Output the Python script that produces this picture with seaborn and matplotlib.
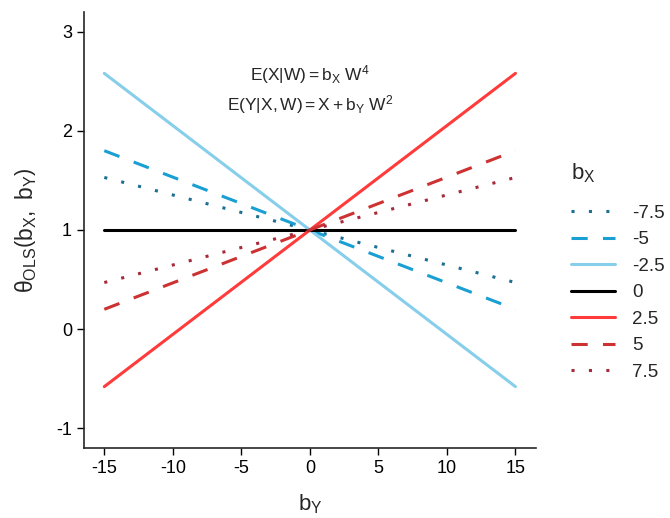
import numpy as np
import pandas as pd
import matplotlib
matplotlib.use("Agg")
import matplotlib.pyplot as plt
import seaborn as sns

b_y = [-15, 0, 15]

# theta_OLS at b_Y = -15, 0, 15 for each b_X
b_x_levels = ["-7.5", "-5", "-2.5", "0", "2.5", "5", "7.5"]
theta_m75 = [1.53, 1.0, 0.47]
theta_m5 = [1.80, 1.0, 0.20]
theta_m25 = [2.58, 1.0, -0.58]
theta_0 = [1.0, 1.0, 1.0]
theta_25 = [-0.58, 1.0, 2.58]
theta_5 = [0.20, 1.0, 1.80]
theta_75 = [0.47, 1.0, 1.53]

colors = ["#1b6f93", "#1a9fd3", "#87ceeb", "#000000", "#ff3b3b", "#cd3232", "#a52a3a"]
dash_styles = [(1, 4.7), (5.3, 5), "", "", "", (5.3, 5), (1, 4.7)]

series = [theta_m75, theta_m5, theta_m25, theta_0, theta_25, theta_5, theta_75]
df = pd.DataFrame({
    "b_y": np.tile(b_y, len(b_x_levels)),
    "theta": np.concatenate(series),
    "b_x": np.repeat(b_x_levels, len(b_y)),
})

sns.set_style("ticks")
plt.rcParams["font.family"] = ["Liberation Sans", "DejaVu Sans"]
plt.rcParams["mathtext.fontset"] = "custom"
plt.rcParams["mathtext.rm"] = "Liberation Sans"
plt.rcParams["mathtext.it"] = "Liberation Sans"
plt.rcParams["axes.unicode_minus"] = False
plt.rcParams["lines.dash_capstyle"] = "butt"

fig = plt.figure(figsize=(6.7, 5.18), dpi=100)
ax = fig.add_axes([0.125, 0.135, 0.675, 0.842])

sns.lineplot(
    data=df, x="b_y", y="theta", hue="b_x", style="b_x",
    hue_order=b_x_levels, style_order=b_x_levels,
    palette=dict(zip(b_x_levels, colors)),
    dashes=dict(zip(b_x_levels, dash_styles)),
    linewidth=2.2, ax=ax,
)

ax.set_xlim(-16.5, 16.5)
ax.set_ylim(-1.2, 3.2)
ax.set_xticks([-15, -10, -5, 0, 5, 10, 15])
ax.set_yticks([-1, 0, 1, 2, 3])
ax.tick_params(labelsize=13, length=5, width=1, colors="black")
for s in ["left", "bottom"]:
    ax.spines[s].set_linewidth(1.2)
sns.despine(ax=ax)

ax.set_xlabel(r"$\mathrm{b_Y}$", fontsize=16, labelpad=11)
ax.set_ylabel(r"$\theta_{\mathrm{OLS}}\left(\mathrm{b_X,\ b_Y}\right)$", fontsize=16.5, labelpad=12)

ax.text(0, 2.57, r"$\mathrm{E(X|W) = b_X\ W^4}$", ha="center", va="center", fontsize=12.5)
ax.text(0, 2.27, r"$\mathrm{E(Y|X,W) = X + b_Y\ W^2}$", ha="center", va="center", fontsize=12.5)

sns.move_legend(
    ax, "upper left", bbox_to_anchor=(1.04, 0.695), frameon=False,
    title=r"$\mathrm{b_X}$", fontsize=13.5, title_fontsize=16,
    handlelength=2.35, handletextpad=0.9, labelspacing=0.5, alignment="left",
)
# a bit more room between the legend title and the keys
ax.get_legend()._legend_box.sep = 14

fig.savefig("out.png", dpi=100)
